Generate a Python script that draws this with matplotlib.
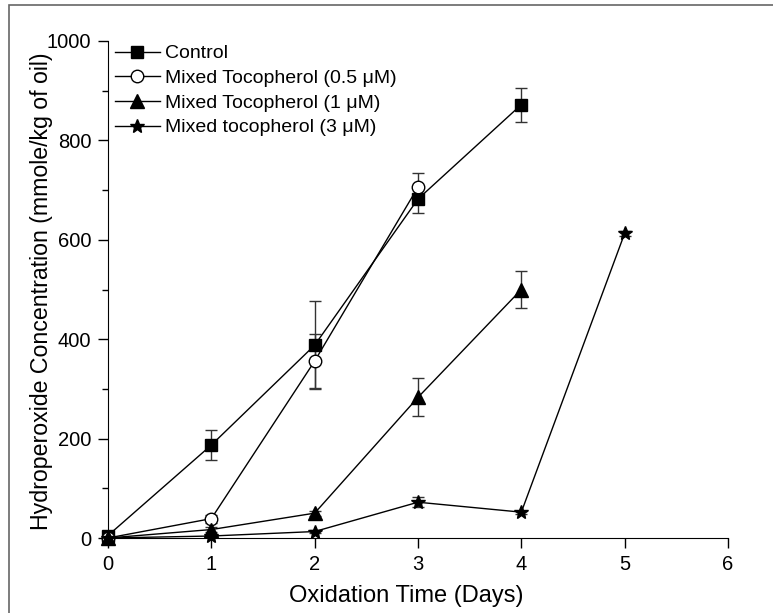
import matplotlib.pyplot as plt
import matplotlib.patches as mpatches
from matplotlib.lines import Line2D
import numpy as np

plt.rcParams['font.family'] = ['Liberation Sans', 'DejaVu Sans']

days_ctrl = np.array([0, 1, 2, 3, 4])
ctrl = np.array([5, 187, 388, 682, 872])
ctrl_err = np.array([0, 30, 88, 28, 34])

days_mt05 = np.array([0, 1, 2, 3])
mt05 = np.array([0, 39, 356, 706])
mt05_err = np.array([0, 8, 55, 28])

days_mt1 = np.array([0, 1, 2, 3, 4])
mt1 = np.array([0, 17, 50, 283, 500])
mt1_err = np.array([0, 5, 5, 38, 38])

days_mt3 = np.array([0, 1, 2, 3, 4, 5])
mt3 = np.array([0, 4, 13, 72, 52, 613])
mt3_err = np.array([0, 2, 3, 10, 3, 5])

labels = ['Control', 'Mixed Tocopherol (0.5 \u03bcM)', 'Mixed Tocopherol (1 \u03bcM)',
          'Mixed tocopherol (3 \u03bcM)']

fig = plt.figure(figsize=(7.73, 6.13), dpi=100)
ax = fig.add_axes([108/773, 1-538/613, (728-108)/773, (538-41)/613])

# thin border around the picture
fig.patches.append(mpatches.Rectangle((9/773, -0.1), 1.2, 1-5/613+0.1, transform=fig.transFigure,
                                      fill=False, edgecolor='#666666', linewidth=1.2))

markers = [dict(marker='s', markersize=8),
           dict(marker='o', markersize=9, markerfacecolor='white'),
           dict(marker='^', markersize=10),
           dict(marker='*', markersize=10)]

common = dict(color='black', linewidth=1, ecolor='#333333', elinewidth=1, capsize=4,
              clip_on=False)
ax.errorbar(days_ctrl, ctrl, yerr=ctrl_err, **markers[0], **common)
ax.errorbar(days_mt05, mt05, yerr=mt05_err, **markers[1], **common)
ax.errorbar(days_mt1, mt1, yerr=mt1_err, **markers[2], **common)
ax.errorbar(days_mt3, mt3, yerr=mt3_err, **markers[3], **common)

ax.set_xlim(0, 6)
ax.set_ylim(0, 1000)
ax.set_xticks(range(0, 7))
ax.set_yticks(range(0, 1001, 200))
ax.set_yticks(range(100, 1000, 200), minor=True)
ax.spines['top'].set_visible(False)
ax.spines['right'].set_visible(False)
ax.tick_params(direction='out', length=7, width=1, labelsize=14.5, pad=5)
ax.tick_params(which='minor', direction='out', length=4, width=1)

ax.set_xlabel('Oxidation Time (Days)', fontsize=17, labelpad=8.5)
ax.xaxis.label.set_x(0.481)
ax.set_ylabel('Hydroperoxide Concentration (mmole/kg of oil)', fontsize=16.7)
ax.yaxis.set_label_coords(-0.088, 0.497)

handles = [Line2D([], [], color='black', linewidth=1, **m) for m in markers]
ax.legend(handles, labels, loc='upper left', bbox_to_anchor=(3/620, 1.0), frameon=False,
          fontsize=14, handlelength=2.3, handletextpad=0.3, labelspacing=0.36,
          borderaxespad=0.0, borderpad=0.2)

fig.savefig('out.png', dpi=100)
